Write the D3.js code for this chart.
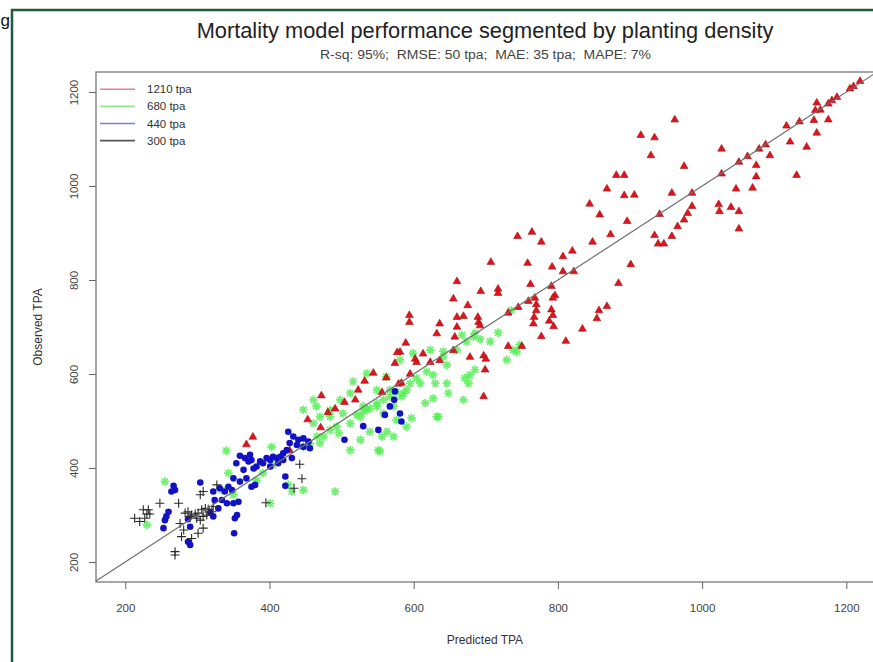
<!DOCTYPE html>
<html>
<head>
<meta charset="utf-8">
<script src="https://cdn.jsdelivr.net/npm/d3@7"></script>
<style>
  body { margin: 0; background: #fff; }
  svg { display: block; font-family: "Liberation Sans", Arial, sans-serif; }
</style>
</head>
<body>
<div id="chart"></div>
<script>
// ---- data ----
const chartTitle = "Mortality model performance segmented by planting density";
const chartSubtitle = "R-sq: 95%;  RMSE: 50 tpa;  MAE: 35 tpa;  MAPE: 7%";
const xLabel = "Predicted TPA";
const yLabel = "Observed TPA";
const xTicks = [200, 400, 600, 800, 1000, 1200];
const yTicks = [200, 400, 600, 800, 1000, 1200];
const seriesNames = ["1210 tpa", "680 tpa", "440 tpa", "300 tpa"];

// [predicted, observed]
const tpa1210 = [
  [1219,1224],[1210,1213],[1205,1208],[1187,1190],[1180,1183],[1175,1176],[1159,1178],[1157,1162],[1164,1163],
  [1175,1142],[1155,1141],[1159,1114],[1135,1138],[1117,1129],[1122,1095],[1145,1084],[1131,1024],[1094,1066],
  [1088,1089],[1079,1080],[1063,1064],[1051,1052],[1075,1045],[1027,1080],[1027,1027],[1075,1021],[1070,997],
  [1047,995],[986,986],[958,986],[975,1043],[962,1142],[934,1104],[915,1109],[929,1066],[881,1024],[892,1024],
  [868,995],[892,981],[906,982],[844,963],[858,940],[896,926],[873,898],[848,882],[941,941],[934,896],[939,878],
  [947,878],[958,894],[966,915],[975,929],[980,943],[986,958],[1023,962],[1024,947],[1040,956],[1051,947],
  [1051,910],[777,882],[807,851],[820,863],[792,829],[807,819],[822,819],[901,834],[791,788],[796,768],[793,763],
  [791,738],[793,726],[788,714],[794,702],[777,681],[811,671],[834,697],[854,719],[857,736],[868,745],[884,794],
  [744,894],[764,903],[707,839],[758,837],[660,798],[693,777],[717,782],[717,773],[762,792],[655,761],[675,747],
  [636,708],[660,722],[669,724],[660,701],[689,722],[690,711],[692,704],[731,731],[745,743],[759,756],[768,763],
  [770,749],[770,736],[767,722],[766,708],
  [632,687],[594,726],[594,711],[589,667],[581,648],[657,680],[731,660],[750,660],[613,644],[602,633],[604,626],
  [636,630],[655,651],[678,637],[697,640],[700,633],[699,610],[697,553],[595,601],[583,582],[623,626],[577,647],
  [574,624],
  [544,603],[562,593],[532,586],[556,562],[523,567],[472,555],[504,541],[519,546],[491,527],[481,519],[453,504],
  [471,487],[377,467],[428,438],[579,580],[368,451]
];
const tpa680 = [
  [717,688],[706,669],[692,674],[685,687],[667,683],[747,662],[738,651],[729,630],[743,647],[685,609],[671,591],
  [676,580],[669,545],[648,559],[627,548],[616,538],[634,509],[597,506],[646,619],[627,598],[630,580],[609,580],
  [590,566],[586,559],[583,552],[641,648],[623,651],[678,598],[735,735],
  [567,566],[572,531],[558,516],[549,531],[535,524],[526,509],[512,495],[502,516],[493,488],[484,509],[475,467],
  [465,531],[461,545],[447,524],[512,438],[496,474],[526,460],[551,438],[556,467],[572,467],[563,477],[539,477],
  [576,502],[470,453],[403,445],[405,406],[391,389],[382,374],[426,364],[431,350],[491,350],[401,325],
  [340,437],[255,371],[230,279],[343,389],[350,343],[334,353],
  [683,679],[673,669],[660,651],[641,637],[618,605],[604,591],[595,580],[576,562],[567,552],[558,545],[549,538],
  [539,527],[530,520],[521,513],[484,481],[466,467],[456,452],[447,445],[646,580],[632,509],[590,488],[553,435],
  [447,353],[530,531],[549,566],[581,630],[562,594],[599,644],[512,559],[498,545],[484,523],[470,509],[461,495],
  [516,584],[535,601]
];
const tpa440 = [
  [581,516],[583,499],
  [574,563],[573,545],[567,531],[560,513],[530,489],[551,481],[504,460],[426,477],[433,467],[440,460],[447,463],
  [454,456],[456,442],[447,445],[438,449],[428,453],[424,438],[419,431],[415,424],[410,421],[405,424],[401,417],
  [396,421],[391,410],[387,414],[382,403],[378,399],[373,428],[375,417],[419,417],[431,421],[412,410],[401,403],
  [422,382],[422,362],[380,364],[375,360],
  [304,369],[267,362],[269,353],[264,350],[260,307],[257,297],[255,289],[253,272],[287,291],[290,275],[290,236],
  [287,243],[359,426],[366,421],[354,410],[364,396],[371,414],[368,378],[359,371],[350,378],[343,360],[348,353],
  [338,350],[331,357],[322,350],[324,332],[334,332],[341,325],[350,325],[357,328],[355,300],[352,293],[329,314],
  [322,297],[318,304],[351,261]
];
const tpa300 = [
  [213,293],[225,311],[232,311],[234,302],[230,302],[227,293],[220,286],[248,325],[274,325],[283,304],[287,307],
  [292,300],[297,302],[301,304],[306,311],[311,314],[315,312],[308,297],[304,289],[299,293],[290,297],[313,300],
  [320,307],[322,318],[327,364],[308,350],[304,343],[281,268],[278,254],[292,250],[301,261],[308,272],[276,282],
  [269,215],[269,222],
  [442,408],[445,377],[434,357],[395,326]
];

// ---- layout ----
const W = 873, H = 662;
const box = { left: 96, top: 72, right: 880, bottom: 582 };

const setAttrs = (el, attrs) =>
  Object.entries(attrs).reduce((acc, [k, v]) => acc.attr(k, v), el);

const svg = d3.select("#chart").append("svg").attr("width", W).attr("height", H);

const x = d3.scaleLinear().domain([159.4, 1246.7]).range([box.left, box.right]);
const y = d3.scaleLinear().domain([157.4, 1242.6]).range([box.bottom, box.top]);

// outer green frame + stray glyph
setAttrs(svg.append("rect"), { x: 12, y: 10, width: W + 20, height: H + 20, fill: "none", stroke: "#1e5a3a", "stroke-width": 2.5 });
setAttrs(svg.append("text"), { x: 0.5, y: 26, "font-size": 17, fill: "#111" }).text("g");

// titles
setAttrs(svg.append("text"), { x: 485, y: 38, "text-anchor": "middle", "font-size": 21.8, fill: "#222" }).text(chartTitle);
setAttrs(svg.append("text"), {
  x: 320, y: 59, "font-size": 12, fill: "#444", textLength: 331, lengthAdjust: "spacingAndGlyphs"
}).style("white-space", "pre").text(chartSubtitle);

// plot box
setAttrs(svg.append("rect"), {
  x: box.left, y: box.top, width: box.right - box.left, height: box.bottom - box.top,
  fill: "none", stroke: "#8a8a8a", "stroke-width": 1.5
});

// axes
const xAxis = svg.append("g").attr("transform", `translate(0,${box.bottom})`)
  .call(d3.axisBottom(x).tickValues(xTicks).tickSize(7).tickPadding(15).tickFormat(d3.format("d")));
const yAxis = svg.append("g").attr("transform", `translate(${box.left},0)`)
  .call(d3.axisLeft(y).tickValues(yTicks).tickSize(7).tickPadding(4).tickFormat(d3.format("d")));
[xAxis, yAxis].forEach((a) => {
  a.select(".domain").remove();
  a.selectAll(".tick line").attr("stroke", "#666");
  a.selectAll(".tick text").attr("fill", "#444").attr("font-size", 11.5).attr("font-family", "Liberation Sans, Arial, sans-serif");
});
yAxis.selectAll(".tick text")
  .attr("transform", () => "rotate(-90,-22,0)")
  .attr("x", -22).attr("dy", "0.35em").attr("y", 0)
  .attr("text-anchor", "middle");

setAttrs(svg.append("text"), { x: 485, y: 644, "text-anchor": "middle", "font-size": 12, fill: "#333" }).text(xLabel);
setAttrs(svg.append("text"), { transform: "translate(42,327) rotate(-90)", "text-anchor": "middle", "font-size": 12, fill: "#333" }).text(yLabel);

// points
const plot = svg.append("g");
const tri = d3.symbol().type(d3.symbolTriangle).size(26)();
const star = "M0,-4.3V4.3M-4.3,0H4.3M-3.1,-3.1L3.1,3.1M-3.1,3.1L3.1,-3.1";
const plus = "M0,-4.5V4.5M-4.5,0H4.5";

plot.append("g").selectAll("path").data(tpa680).join("path")
  .attr("d", star).attr("transform", (d) => `translate(${x(d[0])},${y(d[1])})`)
  .attr("stroke", "#55ee55").attr("stroke-width", 1.7).attr("fill", "none").attr("opacity", 0.85);

plot.append("g").selectAll("path").data(tpa1210).join("path")
  .attr("d", tri).attr("transform", (d) => `translate(${x(d[0])},${y(d[1]) + 0.5})`)
  .attr("fill", "#e0141c").attr("stroke", "#a01010").attr("stroke-width", 0.6);

plot.append("g").selectAll("circle").data(tpa440).join("circle")
  .attr("cx", (d) => x(d[0])).attr("cy", (d) => y(d[1])).attr("r", 3.3)
  .attr("fill", "#1212c4");

plot.append("g").selectAll("path").data(tpa300).join("path")
  .attr("d", plus).attr("transform", (d) => `translate(${x(d[0])},${y(d[1])})`)
  .attr("stroke", "#2a2a2a").attr("stroke-width", 1.1).attr("fill", "none");

// 1:1 line
const lo = 159.4, hi = 1242.6;
setAttrs(svg.append("line"), {
  x1: x(lo), y1: y(lo), x2: x(hi), y2: y(hi), stroke: "#707070", "stroke-width": 1.2
});

// legend
const legendColors = ["#e3808c", "#8fe88f", "#7484dc", "#555"];
const legend = svg.append("g");
seriesNames.forEach((name, i) => {
  const ly = 89.3 + i * 17.1;
  setAttrs(legend.append("line"), { x1: 100, x2: 135, y1: ly, y2: ly, stroke: legendColors[i], "stroke-width": 1.6 });
  setAttrs(legend.append("text"), { x: 147, y: ly + 4, "font-size": 11.5, fill: "#333" }).text(name);
});
</script>
</body>
</html>
